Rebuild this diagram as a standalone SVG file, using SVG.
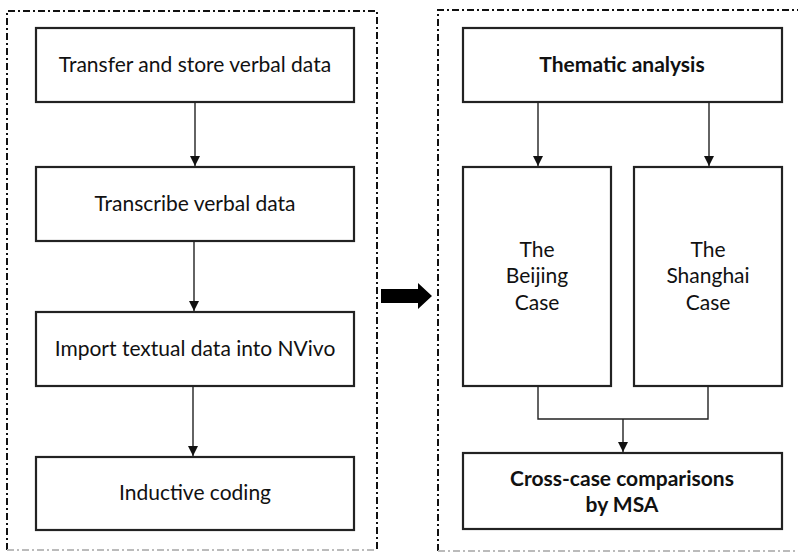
<svg xmlns="http://www.w3.org/2000/svg" width="798" height="552" viewBox="0 0 798 552">
<style>
.frame{fill:none;stroke:#111;stroke-width:2;stroke-dasharray:7 3 2 3}
.frameb{fill:none;stroke:#bbb;stroke-width:2;stroke-dasharray:7 3 2 3}
.box{fill:#fff;stroke:#222;stroke-width:2.2}
.t{font-family:Lato,"Open Sans",sans-serif;font-size:21px;fill:#111;text-anchor:middle}
.b{font-weight:bold}
.c{fill:none;stroke:#222;stroke-width:1.4}
</style>
<defs>
<marker id="ah" viewBox="0 0 10 10" refX="10" refY="5" markerWidth="10" markerHeight="10" markerUnits="userSpaceOnUse" orient="auto">
<path d="M0,0 L10,5 L0,10 z" fill="#111"/>
</marker>
</defs>
<rect width="798" height="552" fill="#fff"/>
<g id="frames">
<path class="frame" d="M7,550 L7,11 L377,11 L377,550"/>
<path class="frameb" d="M7,550 L377,550"/>
<path class="frame" d="M438,551 L438,10 L800,10"/>
<path class="frameb" d="M438,551 L800,551"/>
</g>
<g id="n1"><rect class="box" x="36" y="28" width="318" height="74"/><text class="t" x="195" y="72">Transfer and store verbal data</text></g>
<g id="n2"><rect class="box" x="36" y="167" width="318" height="74"/><text class="t" x="195" y="211">Transcribe verbal data</text></g>
<g id="n3"><rect class="box" x="36" y="312" width="318" height="74"/><text class="t" x="195" y="356">Import textual data into NVivo</text></g>
<g id="n4"><rect class="box" x="36" y="457" width="318" height="73"/><text class="t" x="195" y="500">Inductive coding</text></g>
<g id="n5"><rect class="box" x="463" y="28" width="319" height="74"/><text class="t b" x="622" y="72">Thematic analysis</text></g>
<g id="n6"><rect class="box" x="463" y="167" width="148" height="219"/><text class="t" x="537" y="257">The</text><text class="t" x="537" y="283">Beijing</text><text class="t" x="537" y="310">Case</text></g>
<g id="n7"><rect class="box" x="634" y="167" width="148" height="219"/><text class="t" x="708" y="257">The</text><text class="t" x="708" y="283">Shanghai</text><text class="t" x="708" y="310">Case</text></g>
<g id="n8"><rect class="box" x="463" y="453" width="319" height="76"/><text class="t b" x="622" y="486">Cross-case comparisons</text><text class="t b" x="622" y="512">by MSA</text></g>
<g id="bigarrow"><path d="M381,289 L418,289 L418,283 L432,296 L418,309 L418,303 L381,303 z" fill="#000"/></g>
<g id="connectors">
<path class="c" d="M195,102 L195,166" marker-end="url(#ah)"/>
<path class="c" d="M194,241 L194,311" marker-end="url(#ah)"/>
<path class="c" d="M193,386 L193,456" marker-end="url(#ah)"/>
<path class="c" d="M538,102 L538,166" marker-end="url(#ah)"/>
<path class="c" d="M709,102 L709,166" marker-end="url(#ah)"/>
<path class="c" d="M538,386 L538,419 L708,419 L708,386"/>
<path class="c" d="M623,419 L623,452" marker-end="url(#ah)"/>
</g>
</svg>
